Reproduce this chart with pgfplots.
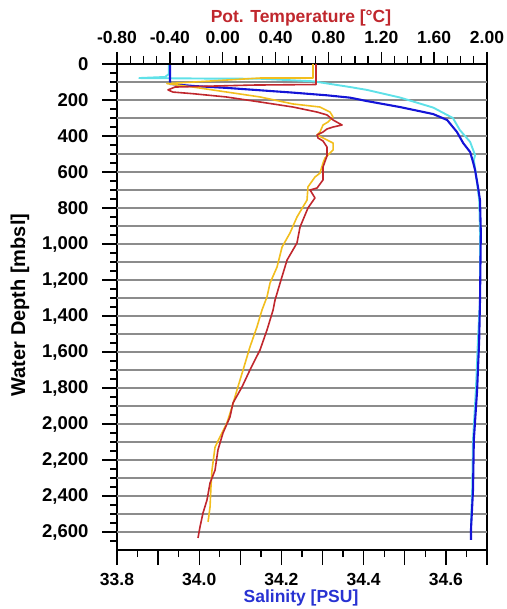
\documentclass[border=0pt]{standalone}
\usepackage{fontspec}
\setmainfont{Liberation Sans}
\usepackage{pgfplots}
\pgfplotsset{compat=1.18}
\definecolor{tred}{RGB}{192,39,45}
\definecolor{tgold}{RGB}{242,190,30}
\definecolor{sblue}{RGB}{20,20,215}
\definecolor{scyan}{RGB}{95,225,232}
\definecolor{gridgray}{RGB}{140,140,140}
\definecolor{labblue}{RGB}{40,50,210}
\begin{document}
\begin{tikzpicture}
\useasboundingbox (0pt,0pt) rectangle (506pt,609pt);
\begin{axis}[
  at={(117pt,59pt)}, anchor=south west,
  scale only axis, width=370pt, height=486pt,
  xmin=33.8, xmax=34.7, ymin=0, ymax=2700, y dir=reverse,
  axis line style={line width=1.7pt},
  tick align=outside, xtick pos=lower, ytick pos=left,
  major tick length=15pt, minor tick length=7pt,
  every tick/.style={black, line width=1.4pt},
  xtick={33.8,33.9,34.0,34.1,34.2,34.3,34.4,34.5,34.6,34.7},
  xticklabels={33.8,,34.0,,34.2,,34.4,,34.6,},
  minor xtick={33.85,33.95,34.05,34.15,34.25,34.35,34.45,34.55,34.65},
  ytick={0,200,...,2600},
  yticklabels={0,200,400,600,800,{1,000},{1,200},{1,400},{1,600},{1,800},{2,000},{2,200},{2,400},{2,600}},
  minor ytick={50,100,...,2650},
  extra y ticks={100,200,...,2600},
  extra y tick labels={},
  extra y tick style={grid=major, major tick length=0pt},
  major grid style={gridgray, line width=1.5pt},
  xticklabel style={font=\fontsize{17.5}{20}\selectfont\bfseries, anchor=center, yshift=-14pt},
  yticklabel style={font=\fontsize{18.5}{21}\selectfont\bfseries, anchor=east, xshift=-10pt},
]
\addplot[scyan, line width=1.9pt, line join=round] table {
33.926 0
33.926 56
33.917 72
33.854 78
34.021 81
34.148 82
34.277 96
34.367 128
34.408 144
34.488 186
34.569 242
34.617 300
34.634 367
34.659 433
34.671 506
34.668 533
34.676 661
34.681 756
34.683 939
34.683 1311
34.678 1533
34.673 1811
34.666 2089
34.664 2367
34.661 2561
};
\addplot[sblue, line width=2.1pt, line join=round] table {
33.929 0
33.929 111
33.985 122
34.068 133
34.148 146
34.228 159
34.311 174
34.367 187
34.408 206
34.488 239
34.569 278
34.603 311
34.627 378
34.642 439
34.659 489
34.666 544
34.671 589
34.678 683
34.683 756
34.685 939
34.683 1311
34.681 1533
34.676 1811
34.668 2089
34.666 2367
34.661 2589
34.661 2644
};
\end{axis}
\begin{axis}[
  at={(117pt,59pt)}, anchor=south west,
  scale only axis, width=370pt, height=486pt,
  xmin=-0.8, xmax=2.0, ymin=0, ymax=2700, y dir=reverse,
  axis x line*=top, axis y line=none,
  axis line style={line width=1.7pt},
  tick align=outside,
  major tick length=12pt, minor tick length=8pt,
  every tick/.style={black, line width=1.4pt},
  xtick={-0.8,-0.4,0,0.4,0.8,1.2,1.6,2.0},
  xticklabels={-0.80,-0.40,0.00,0.40,0.80,1.20,1.60,2.00},
  minor x tick num=3,
  xticklabel style={font=\fontsize{17.5}{20}\selectfont\bfseries, anchor=center, yshift=15pt},
]
\addplot[tgold, line width=1.6pt, line join=round] table {
0.683 0
0.683 78
0.282 78
-0.422 109
-0.225 128
0.032 156
0.282 183
0.532 222
0.736 239
0.812 267
0.835 294
0.797 322
0.759 339
0.736 378
0.714 394
0.759 411
0.835 439
0.835 478
0.774 522
0.759 550
0.736 606
0.698 628
0.645 683
0.638 756
0.562 850
0.509 939
0.449 1017
0.411 1128
0.358 1217
0.335 1294
0.297 1367
0.259 1461
0.206 1572
0.154 1700
0.108 1811
0.070 1906
0.032 1994
-0.021 2072
-0.058 2128
-0.081 2256
-0.089 2350
-0.096 2461
-0.111 2544
};
\addplot[tred, line width=1.6pt, line join=round] table {
0.706 0
0.706 114
0.229 117
-0.361 128
-0.414 144
-0.376 156
-0.225 165
0.025 183
0.282 211
0.532 239
0.714 267
0.789 283
0.835 311
0.903 339
0.835 350
0.789 361
0.759 378
0.714 394
0.721 411
0.759 428
0.789 461
0.789 511
0.759 572
0.759 644
0.714 689
0.661 700
0.698 744
0.645 800
0.585 906
0.562 994
0.487 1089
0.434 1217
0.396 1311
0.381 1367
0.335 1478
0.282 1589
0.206 1700
0.146 1794
0.078 1883
0.055 1961
0.002 2050
-0.036 2144
-0.058 2256
-0.096 2328
-0.119 2422
-0.149 2494
-0.172 2572
-0.187 2633
};
\end{axis}
\node[font=\fontsize{17.5}{21}\selectfont\bfseries, text=tred] at (301pt,591pt) {Pot. Temperature [°C]};
\node[font=\fontsize{17.5}{21}\selectfont\bfseries, text=labblue] at (301pt,11pt) {Salinity [PSU]};
\node[font=\fontsize{20}{24}\selectfont\bfseries, rotate=90] at (20pt,304pt) {Water Depth [mbsl]};
\end{tikzpicture}
\end{document}
